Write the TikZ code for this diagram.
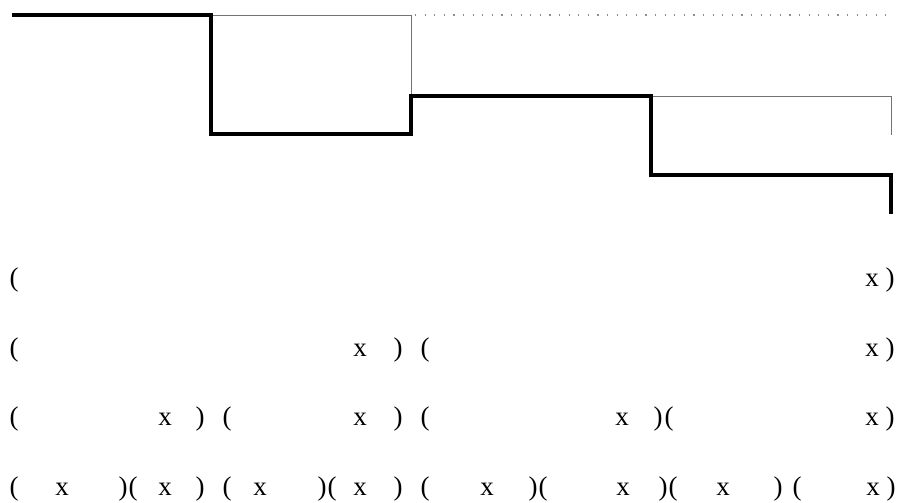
\documentclass[tikz,border=0pt]{standalone}
\usepackage{fontspec}
\setmainfont{Liberation Serif}
\usetikzlibrary{positioning}

\begin{document}
\begin{tikzpicture}[x=1pt, y=-1pt,
    every node/.style={
        anchor=base,
        inner sep=0pt,
        font=\fontsize{27}{32}\selectfont
    },
    walk/.style={line width=3.6pt, line join=miter},
    branch/.style={line width=0.9pt, black!55},
    limit/.style={line width=1.2pt, black!45, dash pattern=on 1.2pt off 8.4pt}
]

\useasboundingbox (0, 0) rectangle (898, 503);

    % corners of the step path
    \coordinate (start) at (12, 15);
    \coordinate (drop_a) at (211, 15);
    \coordinate (low_a) at (211, 134);
    \coordinate (low_b) at (411, 134);
    \coordinate (rise_b) at (411, 96);
    \coordinate (top_b) at (411, 15);
    \coordinate (drop_c) at (651, 96);
    \coordinate (low_c) at (651, 175);
    \coordinate (low_d) at (891, 175);
    \coordinate (end_d) at (891, 214);
    \coordinate (top_d) at (891, 96);
    \coordinate (tip_d) at (891, 135);
    \coordinate (dots_start) at (415, 15);
    \coordinate (dots_end) at (886, 15);


    \draw[branch] (drop_a) -- (top_b) -- (rise_b);
    \draw[branch] (drop_c) -- (top_d) -- (tip_d);
    \draw[limit] (dots_start) -- (dots_end);

    \draw[walk] (start) -- (drop_a) -- (low_a) -- (low_b) -- (rise_b)
        -- (drop_c) -- (low_c) -- (low_d) -- (end_d);



    % first row
    \node (row1_open) at (14, 286) {(};
    \node (row1_x) at (872, 286) {x};
    \node (row1_close) at (890, 286) {)};

    % second row
    \node (row2_open_a) at (14, 356) {(};
    \node (row2_x_a) at (360, 356) {x};
    \node (row2_close_a) at (398, 356) {)};
    \node (row2_open_b) at (425, 356) {(};
    \node (row2_x_b) at (872, 356) {x};
    \node (row2_close_b) at (890, 356) {)};

    % third row
    \node (row3_open_a) at (14, 425) {(};
    \node (row3_x_a) at (165, 425) {x};
    \node (row3_close_a) at (200, 425) {)};
    \node (row3_open_b) at (227, 425) {(};
    \node (row3_x_b) at (360, 425) {x};
    \node (row3_close_b) at (398, 425) {)};
    \node (row3_open_c) at (425, 425) {(};
    \node (row3_x_c) at (622, 425) {x};
    \node (row3_close_c) at (658, 425) {)};
    \node (row3_open_d) at (669, 425) {(};
    \node (row3_x_d) at (872, 425) {x};
    \node (row3_close_d) at (890, 425) {)};

    % fourth row
    \node (row4_open_a) at (14, 495) {(};
    \node (row4_x_a) at (62, 495) {x};
    \node (row4_close_a) at (123, 495) {)};
    \node (row4_open_b) at (133, 495) {(};
    \node (row4_x_b) at (165, 495) {x};
    \node (row4_close_b) at (200, 495) {)};
    \node (row4_open_c) at (227, 495) {(};
    \node (row4_x_c) at (260, 495) {x};
    \node (row4_close_c) at (322, 495) {)};
    \node (row4_open_d) at (332, 495) {(};
    \node (row4_x_d) at (360, 495) {x};
    \node (row4_close_d) at (398, 495) {)};
    \node (row4_open_e) at (425, 495) {(};
    \node (row4_x_e) at (487, 495) {x};
    \node (row4_close_e) at (533, 495) {)};
    \node (row4_open_f) at (543, 495) {(};
    \node (row4_x_f) at (623, 495) {x};
    \node (row4_close_f) at (663, 495) {)};
    \node (row4_open_g) at (673, 495) {(};
    \node (row4_x_g) at (723, 495) {x};
    \node (row4_close_g) at (778, 495) {)};
    \node (row4_open_h) at (797, 495) {(};
    \node (row4_x_h) at (873, 495) {x};
    \node (row4_close_h) at (891, 495) {)};


\end{tikzpicture}
\end{document}
